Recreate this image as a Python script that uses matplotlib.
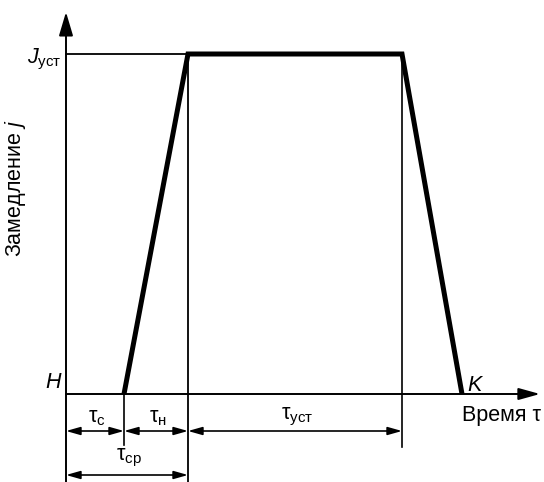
import matplotlib
matplotlib.use('Agg')
import matplotlib.pyplot as plt

# ---- data (arbitrary time / deceleration units) ----
phase_labels = [r'$\mathrm{τ}_{\mathrm{с}}$', r'$\mathrm{τ}_{\mathrm{н}}$', r'$\mathrm{τ}_{\mathrm{уст}}$']
phase_durations = [58, 64, 214]       # tau_c, tau_n, tau_ust
fall_duration = 60                    # release phase
j_ust = 340                           # steady deceleration level
total_label = r'$\mathrm{τ}_{\mathrm{ср}}$'

plt.rcParams['font.family'] = ['Liberation Sans', 'DejaVu Sans']
plt.rcParams['mathtext.fontset'] = 'custom'
plt.rcParams['mathtext.rm'] = 'Liberation Sans'
plt.rcParams['mathtext.it'] = 'Liberation Sans:italic'
plt.rcParams['mathtext.fallback'] = 'cm'

FS = 15.5
fig = plt.figure(figsize=(5.44, 4.82), dpi=100)
ax = fig.add_axes([0, 0, 1, 1])
ax.set_xlim(-66, 478)
ax.set_ylim(-88, 394)
ax.axis('off')

t_c = phase_durations[0]
t_n = t_c + phase_durations[1]
t_u = t_n + phase_durations[2]
t_k = t_u + fall_duration

# axes with arrows
ax.annotate('', xy=(0, 382), xytext=(0, -88),
            arrowprops=dict(arrowstyle='-|>,head_length=1.45,head_width=0.43',
                            lw=1.4, color='k', mutation_scale=10, shrinkA=0, shrinkB=0),
            annotation_clip=False)
ax.annotate('', xy=(474, 0), xytext=(0, 0),
            arrowprops=dict(arrowstyle='-|>,head_length=1.3,head_width=0.36',
                            lw=1.4, color='k', mutation_scale=10, shrinkA=0, shrinkB=0),
            annotation_clip=False)

# braking diagram (trapezoid)
ax.plot([t_c, t_n, t_u, t_k], [0, j_ust, j_ust, 0], color='k', lw=3.6,
        solid_joinstyle='miter', solid_capstyle='butt')
# thin reference line at j_ust
ax.plot([0, t_n], [j_ust, j_ust], color='k', lw=1.3)

# extension lines
ax.plot([t_c, t_c], [0, -51], color='k', lw=1.2)
ax.plot([t_n, t_n], [j_ust, -88], color='k', lw=1.3)
ax.plot([t_u, t_u], [j_ust, -53], color='k', lw=1.2)

# dimension lines
dim_y1 = -37
dim_y2 = -81
starts = [0, t_c, t_n]
ends = [t_c, t_n, t_u]
for s, e, lab in zip(starts, ends, phase_labels):
    ax.annotate('', xy=(e, dim_y1), xytext=(s, dim_y1),
                arrowprops=dict(arrowstyle='<|-|>,head_length=0.85,head_width=0.24',
                                lw=1.2, color='k', mutation_scale=10, shrinkA=0, shrinkB=0))
    ax.text((s + e) / 2 + 2, dim_y1 + 3, lab, fontsize=FS, ha='center', va='bottom')
ax.annotate('', xy=(t_n, dim_y2), xytext=(0, dim_y2),
            arrowprops=dict(arrowstyle='<|-|>,head_length=0.85,head_width=0.24',
                            lw=1.2, color='k', mutation_scale=10, shrinkA=0, shrinkB=0),
            annotation_clip=False)
ax.text(t_n / 2 + 2, dim_y2 + 6, total_label, fontsize=FS, ha='center', va='bottom')

# labels
ax.text(-4, j_ust - 5, r'$\mathit{J}_{\mathrm{уст}}$', fontsize=FS, ha='right', va='center')
ax.text(-5, 12, 'H', fontsize=FS, style='italic', ha='right', va='center')
ax.text(t_k + 5, 3, 'K', fontsize=FS, style='italic', ha='left', va='baseline')
ax.text(475, -11, 'Время τ', fontsize=FS, ha='right', va='top')
ax.text(-50, 206, 'Замедление $\\mathit{j}$', fontsize=FS, rotation=90,
        ha='center', va='center')

fig.savefig('out.png', dpi=100)
